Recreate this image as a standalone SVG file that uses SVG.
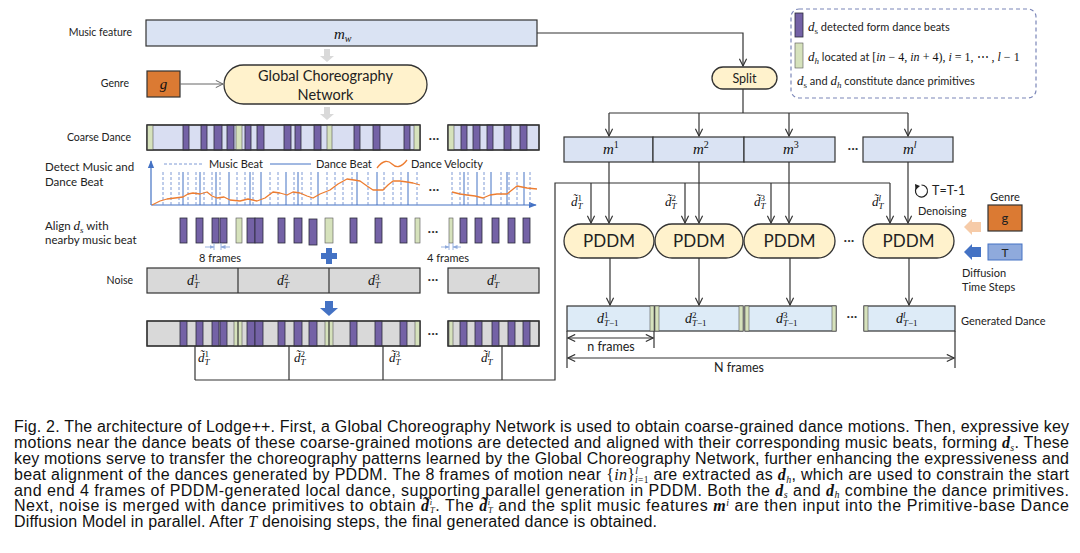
<svg xmlns="http://www.w3.org/2000/svg" width="1080" height="553" viewBox="0 0 1080 553">
<style>
.lbl{font-family:Lato,'Liberation Sans',sans-serif;fill:#222}
.mi{font-family:'Liberation Serif',serif;font-style:italic;fill:#111}
.sc{font-family:'Liberation Serif',serif}
.cap{font-family:'Liberation Sans',Arial,sans-serif;font-size:16px;fill:#111}
.bm{font-family:'Liberation Serif',serif;font-weight:bold;font-style:italic}
.pur{fill:#7462A6;stroke:#2b2b3b;stroke-width:0.8}
.grn{fill:#D6E2BC;stroke:#555;stroke-width:0.6}
.ln{stroke:#333;stroke-width:1.2;fill:none}
.pill{fill:#FFF2CC;stroke:#333;stroke-width:1.3}
.mbox{fill:#DAE3F3;stroke:#333;stroke-width:1.2}
.gray{fill:#D9D9D9;stroke:#333;stroke-width:1.2}
.gen{fill:#DDEBF7;stroke:#333;stroke-width:1.2}
.dash{stroke:#6F8FD0;stroke-width:0.9;stroke-dasharray:3 2}
.beat{stroke:#4472C4;stroke-width:1}
.dots{font-family:Lato,sans-serif;font-size:14px;fill:#333}
</style>
<defs>
<marker id="v" viewBox="0 0 10 10" refX="9" refY="5" markerWidth="9" markerHeight="9" markerUnits="userSpaceOnUse" orient="auto-start-reverse"><path d="M1,1 L9,5 L1,9" fill="none" stroke="#333" stroke-width="1.3"/></marker>
<marker id="vg" viewBox="0 0 10 10" refX="9" refY="5" markerWidth="9" markerHeight="9" markerUnits="userSpaceOnUse" orient="auto"><path d="M1,1 L9,5 L1,9" fill="none" stroke="#666" stroke-width="1.1"/></marker>
<marker id="ax" viewBox="0 0 10 10" refX="9" refY="5" markerWidth="8" markerHeight="8" markerUnits="userSpaceOnUse" orient="auto"><path d="M0,1 L10,5 L0,9 Z" fill="#4472C4"/></marker>
<marker id="sb" viewBox="0 0 10 10" refX="9" refY="5" markerWidth="5" markerHeight="5" markerUnits="userSpaceOnUse" orient="auto"><path d="M0,1 L10,5 L0,9 Z" fill="#8FAADC"/></marker>
</defs>
<rect width="1080" height="553" fill="#fff"/>

<g id="left-labels" class="lbl">
<text x="132" y="36" text-anchor="end" font-size="10.5">Music feature</text>
<text x="129" y="87" text-anchor="end" font-size="10.5">Genre</text>
<text x="131" y="141" text-anchor="end" font-size="10.5">Coarse Dance</text>
<text x="45" y="171" font-size="11.5">Detect Music and</text>
<text x="45" y="186" font-size="11.5">Dance Beat</text>
<text x="45" y="230" font-size="11.5">Align <tspan class="mi" font-size="13">d</tspan><tspan class="sc" font-size="9" baseline-shift="-3" font-style="italic">s</tspan> with</text>
<text x="45" y="244" font-size="11.5">nearby music beat</text>
<text x="133" y="284" text-anchor="end" font-size="10.5">Noise</text>
</g>

<g id="music-feature">
<rect x="146" y="20" width="391" height="26" class="mbox"/>
<text x="334" y="39" class="mi" font-size="15">m<tspan class="sc" font-size="10" baseline-shift="-3">w</tspan></text>
</g>

<g id="genre">
<rect x="147" y="71" width="33" height="26" fill="#DB7A33" stroke="#333" stroke-width="1.2"/>
<text x="163.5" y="89" class="mi" font-size="15" text-anchor="middle">g</text>
</g>

<g id="gcn">
<rect x="224" y="65" width="203" height="39" rx="19.5" class="pill"/>
<text x="325.5" y="81" class="lbl" font-size="14.5" text-anchor="middle" fill="#111">Global Choreography</text>
<text x="325.5" y="100" class="lbl" font-size="14.5" text-anchor="middle" fill="#111">Network</text>
</g>

<g id="gray-arrows" fill="#D9D9D9">
<polygon points="324,49 330,49 330,56 334,56 327,62 320,56 324,56"/>
<polygon points="324,107 330,107 330,114 334,114 327,120 320,114 324,114"/>
</g>

<g id="coarse-dance">
<rect x="147" y="125" width="273" height="25" fill="#D9DEF2" stroke="#333" stroke-width="1.2"/>
<rect x="147" y="125" width="6" height="25" class="grn"/>
<rect x="236" y="125" width="6" height="25" class="grn"/>
<rect x="327" y="125" width="5" height="25" class="grn"/>
<rect x="414" y="125" width="6" height="25" class="grn"/>
<rect x="183" y="125" width="6" height="25" class="pur"/>
<rect x="201" y="125" width="6" height="25" class="pur"/>
<rect x="214" y="125" width="8" height="25" class="pur"/>
<rect x="227" y="125" width="7" height="25" class="pur"/>
<rect x="245" y="125" width="6" height="25" class="pur"/>
<rect x="257" y="125" width="7" height="25" class="pur"/>
<rect x="284" y="125" width="7" height="25" class="pur"/>
<rect x="295" y="125" width="6" height="25" class="pur"/>
<rect x="314" y="125" width="7" height="25" class="pur"/>
<rect x="354" y="125" width="6" height="25" class="pur"/>
<rect x="373" y="125" width="7" height="25" class="pur"/>
<rect x="404" y="125" width="6" height="25" class="pur"/>
<rect x="147" y="125" width="273" height="25" fill="none" stroke="#333" stroke-width="1.2"/>
<rect x="448" y="125" width="91" height="25" fill="#D9DEF2" stroke="#333" stroke-width="1.2"/>
<rect x="448" y="125" width="6" height="25" class="grn"/>
<rect x="461" y="125" width="6" height="25" class="pur"/>
<rect x="473" y="125" width="7" height="25" class="pur"/>
<rect x="487" y="125" width="6" height="25" class="pur"/>
<rect x="504" y="125" width="7" height="25" class="pur"/>
<rect x="520" y="125" width="7" height="25" class="pur"/>
<rect x="448" y="125" width="91" height="25" fill="none" stroke="#333" stroke-width="1.2"/>
<text x="434" y="143" class="dots" text-anchor="middle">···</text>
</g>

<g id="beat-chart">
<line x1="151" y1="205" x2="151" y2="161" stroke="#4472C4" stroke-width="1.2" marker-end="url(#ax)"/>
<line x1="151" y1="205" x2="536" y2="205" stroke="#4472C4" stroke-width="1.2" marker-end="url(#ax)"/>
<line x1="164" y1="164" x2="204" y2="164" class="dash"/>
<text x="209" y="168" class="lbl" font-size="11">Music Beat</text>
<line x1="270" y1="164" x2="311" y2="164" class="beat"/>
<text x="316" y="168" class="lbl" font-size="11">Dance Beat</text>
<path d="M377,168 C383,160 388,160 392,164 C396,168 401,168 407,160" fill="none" stroke="#ED7D31" stroke-width="1.3"/>
<text x="411" y="168" class="lbl" font-size="11">Dance Velocity</text>
<g class="dash">
<line x1="163" y1="172" x2="163" y2="205"/><line x1="171" y1="172" x2="171" y2="205"/><line x1="179" y1="172" x2="179" y2="205"/><line x1="188" y1="172" x2="188" y2="205"/><line x1="196" y1="172" x2="196" y2="205"/><line x1="204" y1="172" x2="204" y2="205"/><line x1="212" y1="172" x2="212" y2="205"/><line x1="220" y1="172" x2="220" y2="205"/><line x1="237" y1="172" x2="237" y2="205"/><line x1="245" y1="172" x2="245" y2="205"/><line x1="253" y1="172" x2="253" y2="205"/><line x1="270" y1="172" x2="270" y2="205"/><line x1="278" y1="172" x2="278" y2="205"/><line x1="294" y1="172" x2="294" y2="205"/><line x1="302" y1="172" x2="302" y2="205"/><line x1="311" y1="172" x2="311" y2="205"/><line x1="327" y1="172" x2="327" y2="205"/><line x1="335" y1="172" x2="335" y2="205"/><line x1="343" y1="172" x2="343" y2="205"/><line x1="352" y1="172" x2="352" y2="205"/><line x1="368" y1="172" x2="368" y2="205"/><line x1="384" y1="172" x2="384" y2="205"/><line x1="393" y1="172" x2="393" y2="205"/><line x1="401" y1="172" x2="401" y2="205"/><line x1="417" y1="172" x2="417" y2="205"/>
<line x1="452" y1="172" x2="452" y2="205"/><line x1="460" y1="172" x2="460" y2="205"/><line x1="468" y1="172" x2="468" y2="205"/><line x1="484" y1="172" x2="484" y2="205"/><line x1="501" y1="172" x2="501" y2="205"/><line x1="509" y1="172" x2="509" y2="205"/><line x1="517" y1="172" x2="517" y2="205"/><line x1="530" y1="172" x2="530" y2="205"/>
</g>
<g class="beat">
<line x1="183" y1="172" x2="183" y2="205"/><line x1="200" y1="172" x2="200" y2="205"/><line x1="216" y1="172" x2="216" y2="205"/><line x1="229" y1="172" x2="229" y2="205"/><line x1="250" y1="172" x2="250" y2="205"/><line x1="261" y1="172" x2="261" y2="205"/><line x1="286" y1="172" x2="286" y2="205"/><line x1="298" y1="172" x2="298" y2="205"/><line x1="318" y1="172" x2="318" y2="205"/><line x1="357" y1="172" x2="357" y2="205"/><line x1="377" y1="172" x2="377" y2="205"/><line x1="408" y1="172" x2="408" y2="205"/>
<line x1="464" y1="172" x2="464" y2="205"/><line x1="477" y1="172" x2="477" y2="205"/><line x1="491" y1="172" x2="491" y2="205"/><line x1="507" y1="172" x2="507" y2="205"/><line x1="524" y1="172" x2="524" y2="205"/>
</g>
<polyline fill="none" stroke="#ED7D31" stroke-width="1.3" stroke-linejoin="round" points="152,205 160,201 167,199 175,198 183,197 188,194 193,193 200,194 207,192 212,196 217,198 224,197 230,200 240,201 248,199 257,201 265,198 273,192 280,193 287,195 293,192 300,193 307,196 313,198 320,194 330,190 338,184 347,179 354,180 360,181 367,186 373,190 383,190 388,185 393,181 400,181 407,182 413,183 420,185"/>
<polyline fill="none" stroke="#ED7D31" stroke-width="1.3" stroke-linejoin="round" points="452,192 460,194 467,195 475,196 483,198 490,195 497,194 507,194 512,190 517,186 522,187 527,188 537,189"/>
<text x="434" y="194" class="dots" text-anchor="middle">···</text>
</g>

<g id="align">
<rect x="180" y="218" width="7" height="25" class="pur"/>
<rect x="196" y="218" width="7" height="25" class="pur"/>
<rect x="212" y="218" width="7" height="25" class="pur"/>
<rect x="220" y="218" width="7" height="25" class="pur"/>
<rect x="236" y="218" width="6" height="25" class="grn"/>
<rect x="247" y="218" width="8" height="25" class="pur"/>
<rect x="255" y="218" width="8" height="25" class="pur"/>
<rect x="278" y="218" width="7" height="25" class="pur"/>
<rect x="294" y="218" width="8" height="25" class="pur"/>
<rect x="309" y="219" width="8" height="26" class="pur"/>
<rect x="325" y="218" width="8" height="25" class="grn"/>
<rect x="350" y="218" width="7" height="25" class="pur"/>
<rect x="375" y="218" width="7" height="25" class="pur"/>
<rect x="400" y="218" width="7" height="25" class="pur"/>
<rect x="415" y="218" width="5" height="25" class="grn"/>
<text x="433" y="236" class="dots" text-anchor="middle">···</text>
<rect x="449" y="218" width="4" height="25" class="grn"/>
<rect x="460" y="218" width="7" height="25" class="pur"/>
<rect x="475" y="218" width="7" height="25" class="pur"/>
<rect x="492" y="218" width="7" height="25" class="pur"/>
<rect x="508" y="218" width="7" height="25" class="pur"/>
<rect x="523" y="218" width="7" height="25" class="pur"/>
<g stroke="#8FAADC" stroke-width="0.9">
<line x1="214" y1="243" x2="214" y2="250"/><line x1="221" y1="243" x2="221" y2="250"/>
<line x1="205" y1="247" x2="214" y2="247" marker-end="url(#sb)"/><line x1="230" y1="247" x2="221" y2="247" marker-end="url(#sb)"/>
<line x1="449" y1="243" x2="449" y2="250"/><line x1="453" y1="243" x2="453" y2="250"/>
<line x1="441" y1="247" x2="449" y2="247" marker-end="url(#sb)"/><line x1="461" y1="247" x2="453" y2="247" marker-end="url(#sb)"/>
</g>
<text x="220" y="262" class="lbl" font-size="11" text-anchor="middle">8 frames</text>
<text x="448" y="262" class="lbl" font-size="11" text-anchor="middle">4 frames</text>
<g fill="#4472C4"><rect x="321" y="253" width="16" height="6"/><rect x="326" y="248" width="6" height="16"/></g>
</g>

<g id="noise">
<rect x="147" y="268" width="273" height="25" class="gray"/>
<line x1="238" y1="268" x2="238" y2="293" class="ln"/>
<line x1="329" y1="268" x2="329" y2="293" class="ln"/>
<rect x="448" y="268" width="91" height="25" class="gray"/>
<g class="mi" font-size="14" text-anchor="middle">
<text x="193" y="285">d<tspan class="sc" font-size="9" font-style="normal" baseline-shift="5">1</tspan><tspan class="sc" font-size="9" dx="-4.5" baseline-shift="-3">T</tspan></text>
<text x="283" y="285">d<tspan class="sc" font-size="9" font-style="normal" baseline-shift="5">2</tspan><tspan class="sc" font-size="9" dx="-4.5" baseline-shift="-3">T</tspan></text>
<text x="374" y="285">d<tspan class="sc" font-size="9" font-style="normal" baseline-shift="5">3</tspan><tspan class="sc" font-size="9" dx="-4.5" baseline-shift="-3">T</tspan></text>
<text x="493" y="285">d<tspan class="sc" font-size="9" baseline-shift="5">l</tspan><tspan class="sc" font-size="9" dx="-2.5" baseline-shift="-3">T</tspan></text>
</g>
<text x="433" y="284" class="dots" text-anchor="middle">···</text>
<polygon points="325,301 333,301 333,308 338,308 329,316 320,308 325,308" fill="#4472C4"/>
</g>

<g id="merged">
<rect x="147" y="321" width="273" height="25" class="gray"/>
<rect x="180" y="321" width="7" height="25" class="pur"/>
<rect x="196" y="321" width="7" height="25" class="pur"/>
<rect x="212" y="321" width="7" height="25" class="pur"/>
<rect x="220" y="321" width="7" height="25" class="pur"/>
<rect x="234" y="321" width="8" height="25" class="grn"/>
<rect x="247" y="321" width="8" height="25" class="pur"/>
<rect x="255" y="321" width="8" height="25" class="pur"/>
<rect x="278" y="321" width="7" height="25" class="pur"/>
<rect x="294" y="321" width="8" height="25" class="pur"/>
<rect x="309" y="321" width="8" height="25" class="pur"/>
<rect x="325" y="321" width="8" height="25" class="grn"/>
<rect x="350" y="321" width="7" height="25" class="pur"/>
<rect x="375" y="321" width="7" height="25" class="pur"/>
<rect x="400" y="321" width="7" height="25" class="pur"/>
<rect x="415" y="321" width="5" height="25" class="grn"/>
<line x1="238" y1="321" x2="238" y2="346" class="ln"/>
<line x1="329" y1="321" x2="329" y2="346" class="ln"/>
<rect x="147" y="321" width="273" height="25" fill="none" stroke="#333" stroke-width="1.2"/>
<rect x="448" y="321" width="91" height="25" class="gray"/>
<rect x="449" y="321" width="4" height="25" class="grn"/>
<rect x="460" y="321" width="7" height="25" class="pur"/>
<rect x="475" y="321" width="7" height="25" class="pur"/>
<rect x="492" y="321" width="7" height="25" class="pur"/>
<rect x="508" y="321" width="7" height="25" class="pur"/>
<rect x="523" y="321" width="7" height="25" class="pur"/>
<rect x="448" y="321" width="91" height="25" fill="none" stroke="#333" stroke-width="1.2"/>
<text x="433" y="338" class="dots" text-anchor="middle">···</text>
</g>

<g id="tilde-labels" class="mi" font-size="13">
<text x="198" y="362">d&#x303;<tspan class="sc" font-size="9" font-style="normal" baseline-shift="5">1</tspan><tspan class="sc" font-size="9" dx="-4.5" baseline-shift="-3">T</tspan></text>
<text x="294" y="362">d&#x303;<tspan class="sc" font-size="9" font-style="normal" baseline-shift="5">2</tspan><tspan class="sc" font-size="9" dx="-4.5" baseline-shift="-3">T</tspan></text>
<text x="389" y="362">d&#x303;<tspan class="sc" font-size="9" font-style="normal" baseline-shift="5">3</tspan><tspan class="sc" font-size="9" dx="-4.5" baseline-shift="-3">T</tspan></text>
<text x="481" y="362">d&#x303;<tspan class="sc" font-size="9" baseline-shift="5">l</tspan><tspan class="sc" font-size="9" dx="-2.5" baseline-shift="-3">T</tspan></text>
<text x="571" y="206">d&#x303;<tspan class="sc" font-size="9" font-style="normal" baseline-shift="5">1</tspan><tspan class="sc" font-size="9" dx="-4.5" baseline-shift="-3">T</tspan></text>
<text x="665" y="206">d&#x303;<tspan class="sc" font-size="9" font-style="normal" baseline-shift="5">2</tspan><tspan class="sc" font-size="9" dx="-4.5" baseline-shift="-3">T</tspan></text>
<text x="754" y="206">d&#x303;<tspan class="sc" font-size="9" font-style="normal" baseline-shift="5">3</tspan><tspan class="sc" font-size="9" dx="-4.5" baseline-shift="-3">T</tspan></text>
<text x="872" y="206">d&#x303;<tspan class="sc" font-size="9" baseline-shift="5">l</tspan><tspan class="sc" font-size="9" dx="-2.5" baseline-shift="-3">T</tspan></text>
</g>

<g id="split">
<rect x="712" y="67" width="65" height="22" rx="11" class="pill"/>
<text x="744.5" y="82.5" class="lbl" font-size="12.5" text-anchor="middle" fill="#111">Split</text>
</g>

<g id="m-boxes">
<rect x="564" y="137" width="89" height="25" class="mbox"/>
<rect x="653" y="137" width="91" height="25" class="mbox"/>
<rect x="744" y="137" width="91" height="25" class="mbox"/>
<rect x="863" y="137" width="90" height="25" class="mbox"/>
<text x="853" y="153" class="dots" text-anchor="middle">···</text>
<g class="mi" font-size="15">
<text x="603" y="154">m<tspan class="sc" font-size="10" font-style="normal" baseline-shift="6">1</tspan></text>
<text x="693" y="154">m<tspan class="sc" font-size="10" font-style="normal" baseline-shift="6">2</tspan></text>
<text x="783" y="154">m<tspan class="sc" font-size="10" font-style="normal" baseline-shift="6">3</tspan></text>
<text x="903" y="154">m<tspan class="sc" font-size="10" baseline-shift="6">l</tspan></text>
</g>
</g>

<g id="pddm">
<rect x="564" y="224" width="90" height="34" rx="17" class="pill"/>
<rect x="655" y="224" width="88" height="34" rx="17" class="pill"/>
<rect x="744" y="224" width="91" height="34" rx="17" class="pill"/>
<rect x="863" y="224" width="91" height="34" rx="17" class="pill"/>
<g class="lbl" font-size="17" text-anchor="middle" fill="#111">
<text x="609" y="247">PDDM</text><text x="699" y="247">PDDM</text><text x="789.5" y="247">PDDM</text><text x="908.5" y="247">PDDM</text>
</g>
<text x="849" y="245" class="dots" text-anchor="middle">···</text>
</g>

<g id="denoise">
<path d="M916.6,187.5 A6 6 0 1 0 921.5,185" fill="none" stroke="#222" stroke-width="1.2"/>
<polygon points="915,184 920,186 915.5,190" fill="#222"/>
<text x="932" y="195" class="lbl" font-size="12.5">T=T-1</text>
<text x="918" y="215" class="lbl" font-size="11">Denoising</text>
</g>

<g id="right-inputs">
<text x="1005" y="201" class="lbl" text-anchor="middle" font-size="11">Genre</text>
<rect x="988" y="205" width="34" height="26" fill="#DB7A33" stroke="#333" stroke-width="1.2"/>
<text x="1005" y="223" class="lbl" text-anchor="middle" font-size="13" fill="#111">g</text>
<polygon points="964,227 972,219 972,222 981,222 981,232 972,232 972,235" fill="#F6CBA8"/>
<rect x="988" y="244" width="34" height="16" fill="#8FAADC" stroke="#4472C4" stroke-width="1"/>
<text x="1005" y="256.5" class="lbl" text-anchor="middle" font-size="12" fill="#111">T</text>
<polygon points="964,252 972,244 972,247 981,247 981,257 972,257 972,260" fill="#4472C4"/>
<text x="962" y="277" class="lbl" font-size="11">Diffusion</text>
<text x="962" y="291" class="lbl" font-size="11">Time Steps</text>
</g>

<g id="generated">
<rect x="567" y="306" width="87" height="25" class="gen"/>
<rect x="650" y="306" width="4" height="25" class="grn"/>
<rect x="655" y="306" width="88" height="25" class="gen"/>
<rect x="655" y="306" width="4" height="25" class="grn"/>
<rect x="739" y="306" width="4" height="25" class="grn"/>
<rect x="745" y="306" width="91" height="25" class="gen"/>
<rect x="745" y="306" width="4" height="25" class="grn"/>
<rect x="832" y="306" width="4" height="25" class="grn"/>
<rect x="864" y="306" width="91" height="25" class="gen"/>
<rect x="864" y="306" width="4" height="25" class="grn"/>
<text x="852" y="321" class="dots" text-anchor="middle">···</text>
<g class="mi" font-size="14">
<text x="597" y="323">d<tspan class="sc" font-size="9" font-style="normal" baseline-shift="5">1</tspan><tspan class="sc" font-size="9" dx="-4.5" baseline-shift="-3">T</tspan><tspan class="sc" font-size="9" font-style="normal" baseline-shift="-3">−1</tspan></text>
<text x="685" y="323">d<tspan class="sc" font-size="9" font-style="normal" baseline-shift="5">2</tspan><tspan class="sc" font-size="9" dx="-4.5" baseline-shift="-3">T</tspan><tspan class="sc" font-size="9" font-style="normal" baseline-shift="-3">−1</tspan></text>
<text x="776" y="323">d<tspan class="sc" font-size="9" font-style="normal" baseline-shift="5">3</tspan><tspan class="sc" font-size="9" dx="-4.5" baseline-shift="-3">T</tspan><tspan class="sc" font-size="9" font-style="normal" baseline-shift="-3">−1</tspan></text>
<text x="896" y="323">d<tspan class="sc" font-size="9" baseline-shift="5">l</tspan><tspan class="sc" font-size="9" dx="-2.5" baseline-shift="-3">T</tspan><tspan class="sc" font-size="9" font-style="normal" baseline-shift="-3">−1</tspan></text>
</g>
<text x="961" y="325" class="lbl" font-size="11">Generated Dance</text>
<line x1="567" y1="331" x2="567" y2="368" class="ln" stroke-width="1"/>
<line x1="654" y1="331" x2="654" y2="348" class="ln" stroke-width="1"/>
<line x1="955" y1="331" x2="955" y2="368" class="ln" stroke-width="1"/>
<line x1="568" y1="338" x2="653" y2="338" class="ln" stroke-width="1" marker-start="url(#v)" marker-end="url(#v)"/>
<line x1="568" y1="358" x2="954" y2="358" class="ln" stroke-width="1" marker-start="url(#v)" marker-end="url(#v)"/>
<text x="611" y="351" class="lbl" font-size="12.5" text-anchor="middle">n frames</text>
<text x="739" y="372" class="lbl" font-size="12.5" text-anchor="middle">N frames</text>
</g>

<g id="legend">
<rect x="791" y="9" width="245" height="89" rx="8" fill="none" stroke="#7B86B8" stroke-width="1.2" stroke-dasharray="4 3"/>
<rect x="795" y="13" width="8" height="24" class="pur"/>
<rect x="795" y="43" width="8" height="25" class="grn"/>
<text x="808" y="31" class="lbl" font-size="11"><tspan class="mi" font-size="13">d</tspan><tspan class="sc" font-size="9" baseline-shift="-3">s</tspan> detected form dance beats</text>
<text x="808" y="61" class="lbl" font-size="11"><tspan class="mi" font-size="13">d</tspan><tspan class="sc" font-size="9" font-style="italic" baseline-shift="-3">h</tspan> located at <tspan class="sc" font-size="12" fill="#111">[<tspan font-style="italic">in</tspan> − 4, <tspan font-style="italic">in</tspan> + 4), <tspan font-style="italic">i</tspan> = 1, ⋯ , <tspan font-style="italic">l</tspan> − 1</tspan></text>
<text x="797" y="85" class="lbl" font-size="11"><tspan class="mi" font-size="13">d</tspan><tspan class="sc" font-size="9" baseline-shift="-3">s</tspan> and <tspan class="mi" font-size="13">d</tspan><tspan class="sc" font-size="9" font-style="italic" baseline-shift="-3">h</tspan> constitute dance primitives</text>
</g>

<g id="connectors">
<line x1="180" y1="84" x2="223" y2="84" stroke="#666" stroke-width="1" marker-end="url(#vg)"/>
<polyline points="537,33 743,33 743,66" class="ln" marker-end="url(#v)"/>
<line x1="743" y1="89" x2="743" y2="113" class="ln"/>
<line x1="609" y1="113" x2="908" y2="113" class="ln"/>
<line x1="609" y1="113" x2="609" y2="136" class="ln" marker-end="url(#v)"/>
<line x1="699" y1="113" x2="699" y2="136" class="ln" marker-end="url(#v)"/>
<line x1="789" y1="113" x2="789" y2="136" class="ln" marker-end="url(#v)"/>
<line x1="908" y1="113" x2="908" y2="136" class="ln" marker-end="url(#v)"/>
<line x1="609" y1="162" x2="609" y2="223" class="ln" marker-end="url(#v)"/>
<line x1="699" y1="162" x2="699" y2="223" class="ln" marker-end="url(#v)"/>
<line x1="789" y1="162" x2="789" y2="223" class="ln" marker-end="url(#v)"/>
<line x1="908" y1="162" x2="908" y2="223" class="ln" marker-end="url(#v)"/>
<line x1="195" y1="346" x2="195" y2="380" class="ln"/>
<line x1="289" y1="346" x2="289" y2="380" class="ln"/>
<line x1="383" y1="346" x2="383" y2="380" class="ln"/>
<line x1="502" y1="346" x2="502" y2="380" class="ln"/>
<polyline points="195,380 555,380 555,183 890,183" class="ln"/>
<line x1="591" y1="183" x2="591" y2="223" class="ln" marker-end="url(#v)"/>
<line x1="685" y1="183" x2="685" y2="223" class="ln" marker-end="url(#v)"/>
<line x1="771" y1="183" x2="771" y2="223" class="ln" marker-end="url(#v)"/>
<line x1="890" y1="183" x2="890" y2="223" class="ln" marker-end="url(#v)"/>
<line x1="610" y1="258" x2="610" y2="305" class="ln" marker-end="url(#v)"/>
<line x1="699" y1="258" x2="699" y2="305" class="ln" marker-end="url(#v)"/>
<line x1="790" y1="258" x2="790" y2="305" class="ln" marker-end="url(#v)"/>
<line x1="909" y1="258" x2="909" y2="305" class="ln" marker-end="url(#v)"/>
</g>

<g id="caption" class="cap">
<text x="14" y="432" textLength="1055" lengthAdjust="spacing">Fig. 2. The architecture of Lodge++. First, a Global Choreography Network is used to obtain coarse-grained dance motions. Then, expressive key</text>
<text x="14" y="448" textLength="1055" lengthAdjust="spacing">motions near the dance beats of these coarse-grained motions are detected and aligned with their corresponding music beats, forming <tspan class="bm">d</tspan><tspan class="mi" font-size="10" baseline-shift="-3">s</tspan>. These</text>
<text x="14" y="464" textLength="1055" lengthAdjust="spacing">key motions serve to transfer the choreography patterns learned by the Global Choreography Network, further enhancing the expressiveness and</text>
<text x="14" y="480" textLength="1055" lengthAdjust="spacing">beat alignment of the dances generated by PDDM. The 8 frames of motion near <tspan font-family="Liberation Serif">{<tspan font-style="italic">in</tspan>}</tspan><tspan class="mi" font-size="9.5" baseline-shift="6">l</tspan><tspan font-family="Liberation Serif" font-size="9.5" dx="-3" baseline-shift="-3"><tspan font-style="italic">i</tspan>=1</tspan> are extracted as <tspan class="bm">d</tspan><tspan class="mi" font-size="10" baseline-shift="-3">h</tspan>, which are used to constrain the start</text>
<text x="14" y="496" textLength="1055" lengthAdjust="spacing">and end 4 frames of PDDM-generated local dance, supporting parallel generation in PDDM. Both the <tspan class="bm">d</tspan><tspan class="mi" font-size="10" baseline-shift="-2">s</tspan> and <tspan class="bm">d</tspan><tspan class="mi" font-size="10" baseline-shift="-2">h</tspan> combine the dance primitives.</text>
<text x="14" y="511" textLength="1055" lengthAdjust="spacing">Next, noise is merged with dance primitives to obtain <tspan class="bm">d&#x303;</tspan><tspan class="mi" font-size="8.5" baseline-shift="6.5">i</tspan><tspan class="mi" font-size="8.5" dx="-2.5" baseline-shift="-2">T</tspan>. The <tspan class="bm">d&#x303;</tspan><tspan class="mi" font-size="8.5" baseline-shift="6.5">i</tspan><tspan class="mi" font-size="8.5" dx="-2.5" baseline-shift="-2">T</tspan> and the split music features <tspan class="bm">m</tspan><tspan class="mi" font-size="10" baseline-shift="5">i</tspan> are then input into the Primitive-base Dance</text>
<text x="14" y="527" textLength="643" lengthAdjust="spacing">Diffusion Model in parallel. After <tspan class="mi">T</tspan> denoising steps, the final generated dance is obtained.</text>
</g>
</svg>
